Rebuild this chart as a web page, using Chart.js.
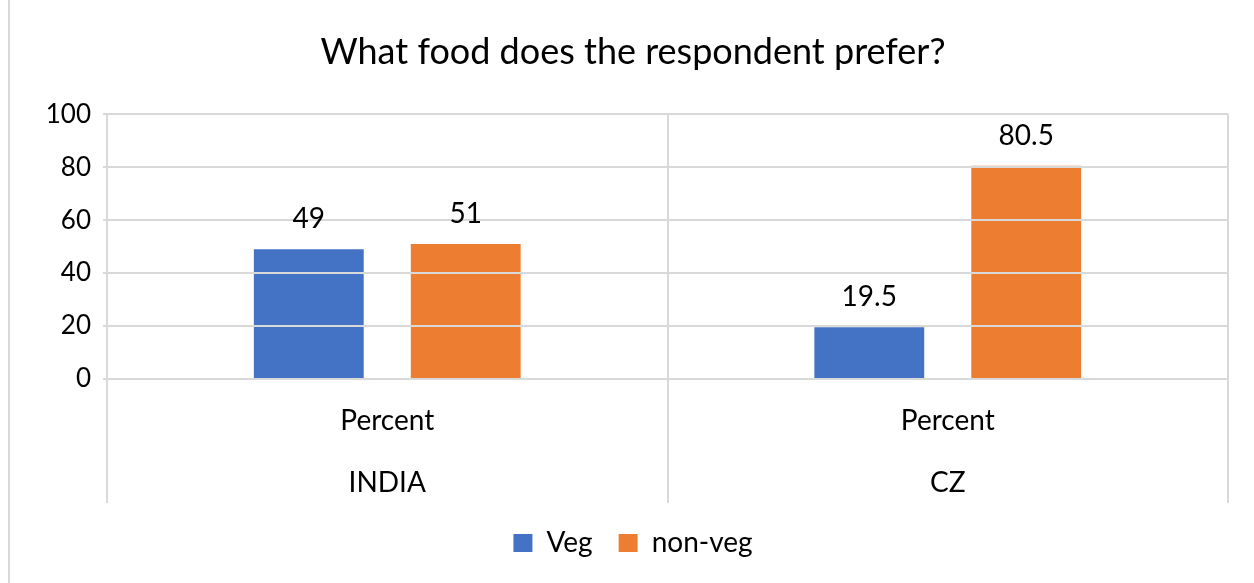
<!DOCTYPE html>
<html>
<head>
<meta charset="utf-8">
<script src="https://cdn.jsdelivr.net/npm/chart.js@4.4.0/dist/chart.umd.min.js"></script>
<style>
  html, body { margin: 0; padding: 0; background: #fff; overflow: hidden; }
  #wrap {
    position: absolute; left: 8px; top: 0;
    width: 1246px; height: 583px;
    border-left: 2px solid #D9D9D9;
    background: #fff;
  }
</style>
</head>
<body>
<div id="wrap"><canvas id="myChart"></canvas></div>
<script>
const countries = ["INDIA", "CZ"];
const subLabels = ["Percent", "Percent"];
const vegValues = [49, 19.5];
const nonVegValues = [51, 80.5];
const yTicks = [0, 20, 40, 60, 80, 100];

const fontName = "Lato, 'Liberation Sans', sans-serif";
const gridColor = "#D9D9D9";

// value labels above each bar (drawn last so the gridlines don't cross them)
const barLabels = {
  id: "barLabels",
  afterDraw(chart) {
    const ctx = chart.ctx;
    ctx.save();
    ctx.font = "28px " + fontName;
    ctx.fillStyle = "#000";
    ctx.textAlign = "center";
    ctx.textBaseline = "middle";
    chart.data.datasets.forEach((ds, i) => {
      chart.getDatasetMeta(i).data.forEach((bar, j) => {
        ctx.fillText(String(ds.data[j]), bar.x, bar.y - 30);
      });
    });
    ctx.restore();
  }
};

// two-level category labels under the plot
const groupLabels = {
  id: "groupLabels",
  afterDraw(chart) {
    const ctx = chart.ctx;
    const x = chart.scales.x;
    const bottom = chart.chartArea.bottom;
    ctx.save();
    ctx.font = "28px " + fontName;
    ctx.fillStyle = "#000";
    ctx.textAlign = "center";
    ctx.textBaseline = "middle";
    countries.forEach((c, i) => {
      const px = x.getPixelForValue(i);
      ctx.fillText(subLabels[i], px, bottom + 42);
      ctx.fillText(c, px, bottom + 104);
    });
    ctx.restore();
  }
};

let canvas = document.getElementById("myChart");
let chart = new Chart(canvas, {
  type: "bar",
  data: {
    labels: countries,
    datasets: [
      {
        label: "Veg",
        data: vegValues,
        backgroundColor: "#4472C4",
        categoryPercentage: 0.56,
        barPercentage: 0.7,
      },
      {
        label: "non-veg",
        data: nonVegValues,
        backgroundColor: "#ED7D31",
        categoryPercentage: 0.56,
        barPercentage: 0.7,
      },
    ],
  },
  options: {
    responsive: true,
    maintainAspectRatio: false,
    animation: false,
    layout: { padding: { left: 0, right: 0, top: 0, bottom: 16 } },
    plugins: {
      title: {
        display: true,
        text: "What food does the respondent prefer?",
        color: "#000",
        font: { family: fontName, size: 36, weight: "normal" },
        padding: { top: 31, bottom: 40 },
      },
      legend: {
        position: "bottom",
        labels: {
          color: "#000",
          font: { family: fontName, size: 28 },
          boxWidth: 19,
          boxHeight: 18,
          padding: 26,
        },
      },
      tooltip: { enabled: false },
    },
    scales: {
      x: {
        grid: {
          offset: true,
          color: gridColor,
          lineWidth: 2,
          tickLength: 124,
        },
        border: { display: false },
        ticks: { display: false },
      },
      y: {
        min: 0,
        max: 100,
        afterBuildTicks(scale) {
          scale.ticks = yTicks.map(v => ({ value: v }));
        },
        afterFit(scale) { scale.width = 97; },
        grid: { color: gridColor, lineWidth: 2, tickLength: 4, z: 1 },
        border: { display: false },
        ticks: {
          color: "#000",
          padding: 12,
          font: { family: fontName, size: 26 },
        },
      },
      yRight: {
        position: "right",
        display: true,
        afterFit(scale) { scale.width = 28; },
        grid: { display: false },
        border: { display: false },
        ticks: { display: false },
      },
    },
  },
  plugins: [barLabels, groupLabels],
});
</script>
</body>
</html>
